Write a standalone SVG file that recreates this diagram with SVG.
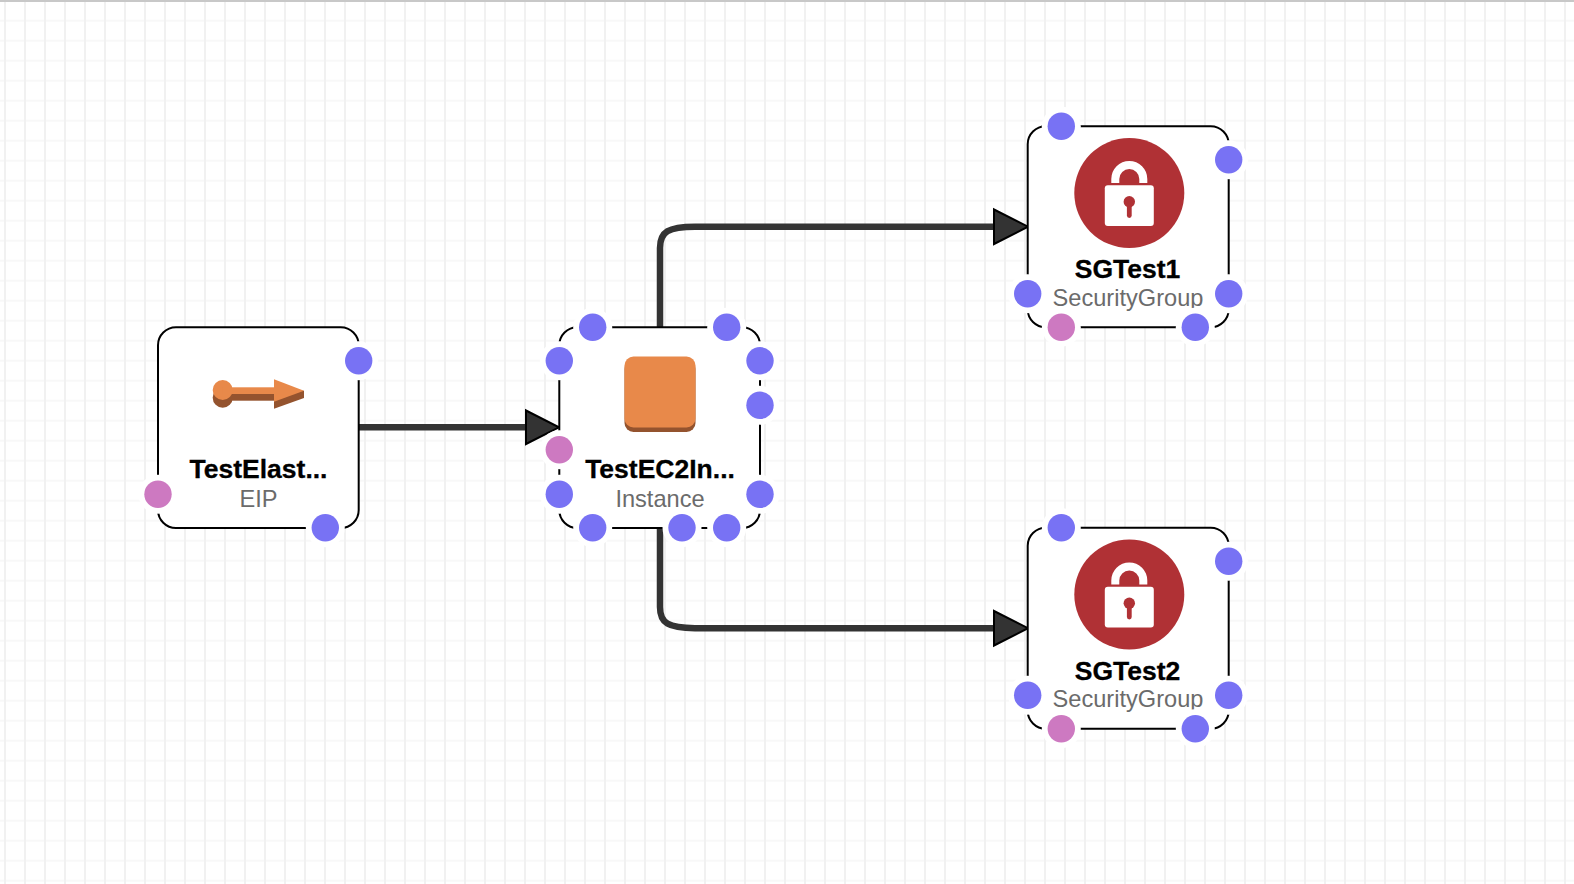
<svg xmlns="http://www.w3.org/2000/svg" width="1574" height="884" viewBox="0 0 1574 884">
<style>
.b{fill:#fff;stroke:#000;stroke-width:2}
.h{fill:#fff}
.p{fill:#7872f4}
.k{fill:#cd79c1}
.t{font:bold 26.500px "Liberation Sans",Arial,sans-serif;text-anchor:middle;fill:#000;stroke:#000;stroke-width:.3}
.s{font:23.600px "Liberation Sans",Arial,sans-serif;text-anchor:middle;fill:#6b6b6b}
.c{fill:none;stroke:#333;stroke-width:6.500}
.r{fill:#333;stroke:#000;stroke-width:2}
</style>
<defs>
<pattern id="g" width="20" height="20" patternUnits="userSpaceOnUse" x="-5" y="0.7">
<rect width="20" height="20" fill="#fff"/>
<rect x="0" y="0" width="20" height="1" fill="#f8f8f8"/>
<rect x="0" y="19" width="20" height="1" fill="#f8f8f8"/>
<rect x="9" y="0" width="2" height="20" fill="#f1f1f1"/>
</pattern>
<g id="lock">
<circle cx="0" cy="0" r="55" fill="#b03135"/>
<path d="M-18 -10V-14A18 18 0 0 1 18 -14V-10H10V-14A10 10 0 0 0 -10 -14V-10Z" fill="#fff"/>
<rect x="-24.500" y="-7.700" width="49" height="40.700" rx="3" fill="#fff"/>
<circle cx="0" cy="8.700" r="5.700" fill="#b03135"/>
<rect x="-2.400" y="8.700" width="4.800" height="16.300" rx="2.400" fill="#b03135"/>
</g>
</defs>
<rect width="1574" height="884" fill="url(#g)"/>
<rect width="1574" height="2" fill="#c8c8c8"/>
<g id="connectors">
<path class="c" d="M358.700 427.300H529"/>
<path class="c" d="M660 327V248C660 232 668 226.700 695 226.700H996"/>
<path class="c" d="M660 528V607C660 623 668 628.200 695 628.200H996"/>
<path class="r" d="M526 410.500L559 427.300L526 444Z"/>
<path class="r" d="M994 209.500L1028 226.700L994 244Z"/>
<path class="r" d="M994 611L1028 628.200L994 645.500Z"/>
</g>
<g id="TestElasticIP">
<rect class="b" x="158" y="327.300" width="200.700" height="200.700" rx="18"/>
<circle cx="222.700" cy="397.700" r="10" fill="#94532e"/>
<rect x="222.700" y="390" width="52" height="10.700" fill="#94532e"/>
<path d="M274 390L304 390.700V398L274 408.700Z" fill="#94532e"/>
<circle cx="222.700" cy="390" r="10" fill="#e8894a"/>
<rect x="222.700" y="387.300" width="52" height="6.700" fill="#e8894a"/>
<path d="M274 379.300L304 390.700L274 401.700Z" fill="#e8894a"/>
<text class="t" x="258.500" y="478">TestElast...</text>
<text class="s" x="258.500" y="506.500">EIP</text>
<circle class="h" cx="358.700" cy="360.700" r="19.500"/><circle class="p" cx="358.700" cy="360.700" r="13.700"/>
<circle class="h" cx="158" cy="494.300" r="19.500"/><circle class="k" cx="158" cy="494.300" r="13.700"/>
<circle class="h" cx="325.300" cy="527.700" r="19.500"/><circle class="p" cx="325.300" cy="527.700" r="13.700"/>
</g>
<g id="TestEC2Instance">
<rect class="b" x="559.300" y="327.300" width="200.700" height="200.700" rx="18"/>
<rect x="624.500" y="360" width="71" height="72" rx="9" fill="#94532e"/>
<rect x="624.500" y="356.500" width="71" height="71" rx="9" fill="#e8894a"/>
<text class="t" x="660" y="478">TestEC2In...</text>
<text class="s" x="660" y="507">Instance</text>
<g class="h">
<circle cx="592.700" cy="327.300" r="19.500"/><circle cx="726.700" cy="327.300" r="19.500"/><circle cx="559.300" cy="360.700" r="19.500"/><circle cx="760" cy="360.700" r="19.500"/><circle cx="760" cy="405.300" r="19.500"/><circle cx="559.300" cy="449.700" r="19.500"/><circle cx="559.300" cy="494.300" r="19.500"/><circle cx="760" cy="494.300" r="19.500"/><circle cx="592.700" cy="527.700" r="19.500"/><circle cx="682" cy="527.700" r="19.500"/><circle cx="726.700" cy="527.700" r="19.500"/>
</g>
<g class="p">
<circle cx="592.700" cy="327.300" r="13.700"/><circle cx="726.700" cy="327.300" r="13.700"/><circle cx="559.300" cy="360.700" r="13.700"/><circle cx="760" cy="360.700" r="13.700"/><circle cx="760" cy="405.300" r="13.700"/><circle cx="559.300" cy="494.300" r="13.700"/><circle cx="760" cy="494.300" r="13.700"/><circle cx="592.700" cy="527.700" r="13.700"/><circle cx="682" cy="527.700" r="13.700"/><circle cx="726.700" cy="527.700" r="13.700"/>
</g>
<circle class="k" cx="559.300" cy="449.700" r="13.700"/>
</g>
<g id="SGTest1">
<rect class="b" x="1027.700" y="126.300" width="201" height="201" rx="18"/>
<use href="#lock" x="1129.300" y="193"/>
<text class="t" x="1127.500" y="278">SGTest1</text>
<text class="s" x="1128" y="306">SecurityGroup</text>
<g class="h"><circle cx="1061.300" cy="126.300" r="19.500"/><circle cx="1228.700" cy="159.700" r="19.500"/><circle cx="1027.700" cy="293.700" r="19.500"/><circle cx="1228.700" cy="293.700" r="19.500"/><circle cx="1061.300" cy="327.300" r="19.500"/><circle cx="1195.300" cy="327.300" r="19.500"/></g>
<g class="p"><circle cx="1061.300" cy="126.300" r="13.700"/><circle cx="1228.700" cy="159.700" r="13.700"/><circle cx="1027.700" cy="293.700" r="13.700"/><circle cx="1228.700" cy="293.700" r="13.700"/><circle cx="1195.300" cy="327.300" r="13.700"/></g>
<circle class="k" cx="1061.300" cy="327.300" r="13.700"/>
</g>
<g id="SGTest2">
<rect class="b" x="1027.700" y="527.800" width="201" height="201" rx="18"/>
<use href="#lock" x="1129.300" y="594.500"/>
<text class="t" x="1127.500" y="679.500">SGTest2</text>
<text class="s" x="1128" y="707">SecurityGroup</text>
<g class="h"><circle cx="1061.300" cy="527.800" r="19.500"/><circle cx="1228.700" cy="561.200" r="19.500"/><circle cx="1027.700" cy="695.200" r="19.500"/><circle cx="1228.700" cy="695.200" r="19.500"/><circle cx="1061.300" cy="728.800" r="19.500"/><circle cx="1195.300" cy="728.800" r="19.500"/></g>
<g class="p"><circle cx="1061.300" cy="527.800" r="13.700"/><circle cx="1228.700" cy="561.200" r="13.700"/><circle cx="1027.700" cy="695.200" r="13.700"/><circle cx="1228.700" cy="695.200" r="13.700"/><circle cx="1195.300" cy="728.800" r="13.700"/></g>
<circle class="k" cx="1061.300" cy="728.800" r="13.700"/>
</g>
</svg>
